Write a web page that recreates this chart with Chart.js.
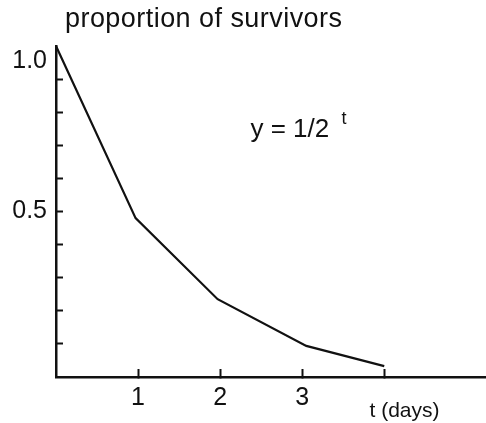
<!DOCTYPE html>
<html>
<head>
<meta charset="utf-8">
<script src="https://cdn.jsdelivr.net/npm/chart.js@4.4.0/dist/chart.umd.min.js"></script>
<style>
  html, body { margin: 0; padding: 0; background: #fff; }
  #wrap { width: 486px; height: 423px; }
</style>
</head>
<body>
<div id="wrap"><canvas id="survival"></canvas></div>
<script>
// days elapsed and the share still alive
const days = [0, 0.97, 1.97, 3.05, 4.0]
const survivors = [1.0, 0.48, 0.235, 0.094, 0.033]

// tick positions and the labels written on them
const xTicks = [1, 2, 3, 4]
const xLabels = { 1: '1', 2: '2', 3: '3' }
const yTicks = [0.1, 0.2, 0.3, 0.4, 0.5, 0.6, 0.7, 0.8, 0.9, 1.0]
const yLabels = { 0.5: '0.5', 1: ['', '1.0'] }

const FONT = '"Liberation Sans", Arial, Helvetica, sans-serif'
const INK = '#111'

/**
 * 画标题、公式和横轴名
 */
const textPlugin = {
  id: 'texts',
  afterDraw: (chart) => {
    const ctx = chart.ctx
    const x = chart.scales.x
    const y = chart.scales.y
    ctx.save()
    ctx.fillStyle = INK
    ctx.textBaseline = 'alphabetic'
    ctx.textAlign = 'left'

    ctx.font = '27px ' + FONT
    ctx.letterSpacing = '0.45px'
    ctx.fillText('proportion of survivors', 65, 27)
    ctx.letterSpacing = '0px'

    // y = 1/2^t
    const fx = x.getPixelForValue(2.37)
    const fy = y.getPixelForValue(0.725)
    ctx.font = '26px ' + FONT
    ctx.fillText('y = 1/2', fx, fy)
    ctx.font = '18px ' + FONT
    ctx.fillText('t', fx + 91, fy - 13)

    ctx.font = '21px ' + FONT
    ctx.textBaseline = 'middle'
    ctx.fillText('t (days)', x.getPixelForValue(3.82), chart.chartArea.bottom + 34)
    ctx.restore()
  }
}

new Chart(document.getElementById('survival'), {
  type: 'line',
  data: {
    datasets: [{
      data: days.map((d, i) => ({ x: d, y: survivors[i] })),
      borderColor: INK,
      borderWidth: 2.2,
      pointRadius: 0,
      tension: 0,
      clip: false
    }]
  },
  options: {
    responsive: true,
    maintainAspectRatio: false,
    animation: false,
    layout: { padding: { top: 46, right: 0, left: 0, bottom: 0 } },
    plugins: {
      legend: { display: false },
      tooltip: { enabled: false }
    },
    scales: {
      x: {
        type: 'linear',
        min: 0,
        max: 5.24,
        afterBuildTicks: (scale) => { scale.ticks = xTicks.map(v => ({ value: v })) },
        afterFit: (scale) => { scale.height = 46 },
        border: { display: true, color: INK, width: 2.5 },
        grid: { drawOnChartArea: false, drawTicks: true, tickLength: -8, tickWidth: 2, tickColor: INK },
        ticks: {
          color: INK,
          font: { family: FONT, size: 25 },
          padding: 14,
          maxRotation: 0,
          autoSkip: false,
          callback: (v) => xLabels[v] || ''
        }
      },
      y: {
        min: 0,
        max: 1.0,
        afterBuildTicks: (scale) => { scale.ticks = yTicks.map(v => ({ value: v })) },
        afterFit: (scale) => { scale.width = 56 },
        border: { display: true, color: INK, width: 2.5 },
        grid: {
          drawOnChartArea: false,
          drawTicks: true,
          tickLength: -7,
          tickWidth: 2,
          tickColor: (c) => (c.tick && c.tick.value === 1 ? 'rgba(0,0,0,0)' : INK)
        },
        ticks: {
          color: INK,
          font: { family: FONT, size: 25 },
          padding: 16,
          autoSkip: false,
          callback: (v) => yLabels[Math.round(v * 10) / 10] || ''
        }
      }
    }
  },
  plugins: [textPlugin]
})
</script>
</body>
</html>
